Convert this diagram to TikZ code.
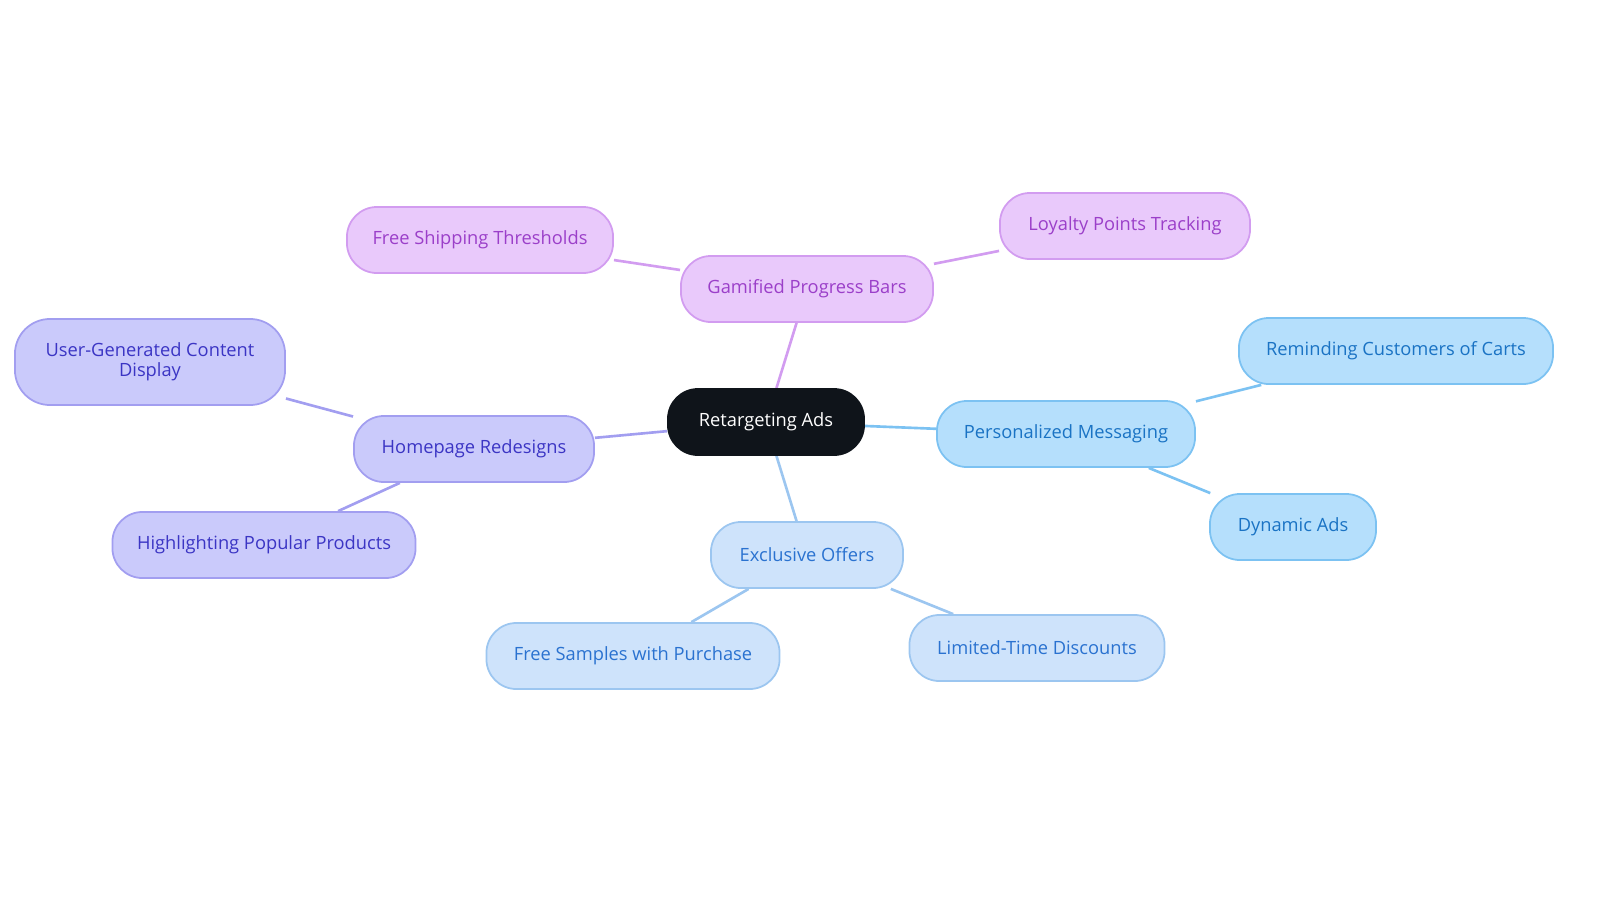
\documentclass[tikz,border=0pt]{standalone}
\usepackage{fontspec}
\setmainfont{Open Sans}
\usetikzlibrary{backgrounds}
\definecolor{rootfill}{HTML}{0F141A}
\definecolor{pinkfill}{HTML}{E9C9FB}\definecolor{pinkline}{HTML}{D29CF0}\definecolor{pinktext}{HTML}{9B3FC9}
\definecolor{bluefill}{HTML}{B5DFFC}\definecolor{blueline}{HTML}{7CC2F2}\definecolor{bluetext}{HTML}{1A73C4}
\definecolor{palefill}{HTML}{CEE3FB}\definecolor{paleline}{HTML}{9CC6F0}\definecolor{paletext}{HTML}{2A72D0}
\definecolor{violfill}{HTML}{CACAFB}\definecolor{violline}{HTML}{A29EF0}\definecolor{violtext}{HTML}{3B35C4}
\tikzset{
  box/.style={rounded corners=0.3cm,minimum height=0.66cm,inner sep=0pt,align=center,
    font=\fontsize{5.2}{5.6}\selectfont,line width=0.5pt},
  root/.style={box,fill=rootfill,draw=rootfill,text=white},
  pink/.style={box,fill=pinkfill,draw=pinkline,text=pinktext},
  blue/.style={box,fill=bluefill,draw=blueline,text=bluetext},
  pale/.style={box,fill=palefill,draw=paleline,text=paletext},
  viol/.style={box,fill=violfill,draw=violline,text=violtext},
  link/.style={line width=0.75pt}
}
\begin{document}
\begin{tikzpicture}[x=0.01cm,y=-0.01cm]
\useasboundingbox (0,0) rectangle (1600,903);
\node[root,minimum width=1.96cm] (ads) at (766,422) {Retargeting Ads};
% pink branch
\node[pink,minimum width=2.52cm] (bars) at (807,289) {Gamified Progress Bars};
\node[pink,minimum width=2.66cm] (ship) at (480,240) {Free Shipping Thresholds};
\node[pink,minimum width=2.50cm] (loyal) at (1125,226) {Loyalty Points Tracking};
% blue branch
\node[blue,minimum width=2.58cm] (msg) at (1066,434) {Personalized Messaging};
\node[blue,minimum width=3.14cm] (carts) at (1396,351) {Reminding Customers of Carts};
\node[blue,minimum width=1.66cm] (dyn) at (1293,527) {Dynamic Ads};
% pale branch
\node[pale,minimum width=1.92cm] (offers) at (807,555) {Exclusive Offers};
\node[pale,minimum width=2.93cm] (samples) at (633,656) {Free Samples with Purchase};
\node[pale,minimum width=2.55cm] (disc) at (1037,648) {Limited-Time Discounts};
% violet branch
\node[viol,minimum width=2.40cm] (home) at (474,449) {Homepage Redesigns};
\node[viol,minimum width=2.70cm,minimum height=0.86cm,rounded corners=0.35cm] (ugc) at (150,362) {User-Generated Content\\Display};
\node[viol,minimum width=3.03cm] (popular) at (264,545) {Highlighting Popular Products};
\begin{scope}[on background layer]
\draw[link,pinkline] (ads) -- (bars) (bars) -- (ship) (bars) -- (loyal);
\draw[link,blueline] (ads) -- (msg) (msg) -- (carts) (msg) -- (dyn);
\draw[link,paleline] (ads) -- (offers) (offers) -- (samples) (offers) -- (disc);
\draw[link,violline] (ads) -- (home) (home) -- (ugc) (home) -- (popular);
\end{scope}
\end{tikzpicture}
\end{document}
